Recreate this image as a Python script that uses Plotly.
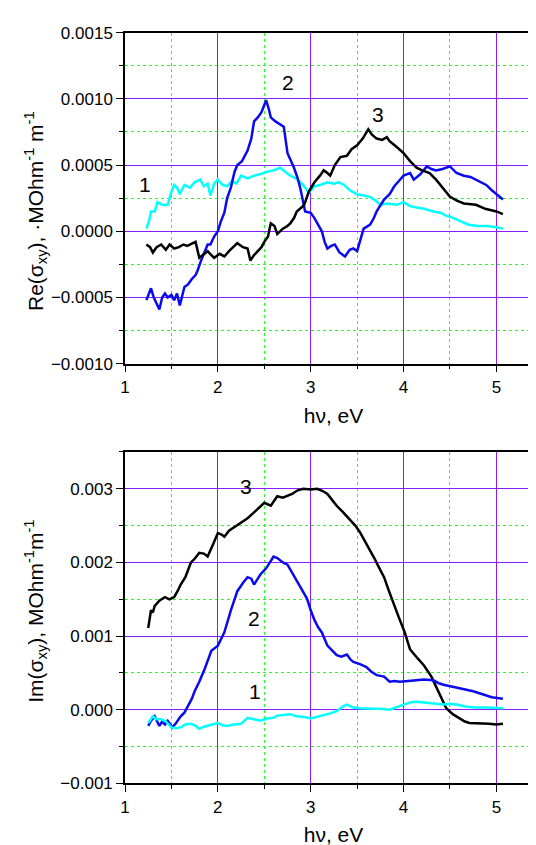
import plotly.graph_objects as go

# ---- data: upper panel Re(sigma_xy) ----
re1_x = [1.23,1.26,1.28,1.32,1.35,1.40,1.46,1.50,1.53,1.56,1.59,1.64,1.70,1.75,1.81,1.85,1.89,1.92,1.96,2.00,2.05,2.10,2.15,2.20,2.25,2.32,2.39,2.45,2.53,2.60,2.67,2.72,2.78,2.84,2.89,2.94,2.98,3.04,3.10,3.18,3.25,3.30,3.36,3.42,3.50,3.57,3.64,3.70,3.75,3.82,3.93,4.00,4.07,4.14,4.22,4.32,4.40,4.45,4.50,4.60,4.70,4.80,4.90,5.00,5.07]
re1_y = [0.00002,0.00008,0.00015,0.00015,0.00022,0.00020,0.00020,0.00030,0.00035,0.00033,0.00028,0.00035,0.00033,0.00037,0.00039,0.00034,0.00036,0.00027,0.00036,0.00039,0.00035,0.00034,0.00038,0.00036,0.00042,0.00040,0.00042,0.00043,0.00045,0.00046,0.00048,0.00045,0.00042,0.00040,0.00037,0.00033,0.00029,0.00034,0.00035,0.00037,0.00036,0.00037,0.00035,0.00031,0.00028,0.00027,0.00026,0.00023,0.00020,0.00021,0.00020,0.00022,0.00019,0.00018,0.00017,0.00015,0.00014,0.00012,0.00011,0.00008,0.00005,0.00004,0.00004,0.00003,0.00002]

re2_x = [1.23,1.26,1.28,1.31,1.34,1.37,1.40,1.43,1.46,1.50,1.53,1.56,1.59,1.62,1.64,1.68,1.72,1.76,1.78,1.82,1.86,1.89,1.92,1.96,2.00,2.03,2.07,2.10,2.14,2.18,2.21,2.26,2.32,2.36,2.39,2.43,2.47,2.50,2.52,2.55,2.57,2.62,2.66,2.71,2.75,2.79,2.82,2.86,2.89,2.94,3.00,3.04,3.08,3.12,3.15,3.18,3.22,3.26,3.31,3.37,3.42,3.46,3.50,3.54,3.57,3.64,3.68,3.71,3.75,3.79,3.85,3.90,3.95,4.00,4.07,4.11,4.18,4.25,4.30,4.35,4.42,4.50,4.57,4.65,4.72,4.78,4.84,4.89,4.95,5.00,5.07]
re2_y = [-0.00052,-0.00047,-0.00043,-0.00050,-0.00055,-0.00059,-0.00050,-0.00047,-0.00050,-0.00048,-0.00052,-0.00047,-0.00056,-0.00048,-0.00042,-0.00040,-0.00036,-0.00033,-0.00030,-0.00022,-0.00015,-0.00010,-0.00010,-0.00004,0.00000,0.00007,0.00014,0.00025,0.00033,0.00045,0.00050,0.00053,0.00061,0.00070,0.00083,0.00086,0.00090,0.00096,0.00099,0.00092,0.00086,0.00083,0.00081,0.00079,0.00059,0.00053,0.00048,0.00040,0.00032,0.00015,0.00014,0.00010,0.00005,0.00000,-0.00008,-0.00013,-0.00011,-0.00010,-0.00016,-0.00019,-0.00014,-0.00013,-0.00015,-0.00006,0.00002,0.00005,0.00010,0.00015,0.00020,0.00024,0.00028,0.00034,0.00038,0.00042,0.00044,0.00039,0.00043,0.00049,0.00047,0.00046,0.00047,0.00049,0.00044,0.00042,0.00041,0.00039,0.00037,0.00035,0.00031,0.00028,0.00024]

re3_x = [1.23,1.27,1.30,1.34,1.39,1.44,1.48,1.53,1.58,1.63,1.67,1.72,1.76,1.80,1.85,1.89,1.93,1.96,2.02,2.07,2.12,2.17,2.21,2.27,2.32,2.35,2.39,2.43,2.47,2.50,2.54,2.57,2.61,2.64,2.70,2.75,2.78,2.82,2.85,2.90,2.93,2.98,3.04,3.10,3.14,3.18,3.21,3.26,3.32,3.39,3.44,3.50,3.56,3.62,3.66,3.71,3.77,3.82,3.85,3.92,4.00,4.07,4.14,4.20,4.28,4.35,4.43,4.50,4.58,4.65,4.78,4.88,5.00,5.07]
re3_y = [-0.00010,-0.00012,-0.00016,-0.00012,-0.00010,-0.00014,-0.00010,-0.00013,-0.00012,-0.00010,-0.00011,-0.00009,-0.00008,-0.00020,-0.00017,-0.00015,-0.00018,-0.00020,-0.00017,-0.00019,-0.00015,-0.00012,-0.00009,-0.00012,-0.00013,-0.00022,-0.00018,-0.00015,-0.00012,-0.00008,-0.00004,0.00006,0.00004,-0.00002,0.00002,0.00004,0.00006,0.00010,0.00015,0.00018,0.00020,0.00030,0.00037,0.00042,0.00046,0.00044,0.00042,0.00050,0.00056,0.00057,0.00062,0.00065,0.00070,0.00077,0.00073,0.00070,0.00069,0.00071,0.00068,0.00064,0.00059,0.00053,0.00048,0.00046,0.00044,0.00039,0.00032,0.00026,0.00023,0.00021,0.00020,0.00017,0.00015,0.00013]

# ---- data: lower panel Im(sigma_xy) ----
im1_x = [1.25,1.28,1.30,1.34,1.39,1.44,1.50,1.55,1.60,1.65,1.71,1.76,1.80,1.85,1.89,1.94,2.00,2.05,2.10,2.17,2.25,2.32,2.39,2.46,2.53,2.60,2.64,2.71,2.78,2.85,2.93,3.00,3.07,3.14,3.21,3.28,3.34,3.39,3.46,3.53,3.62,3.71,3.78,3.85,3.93,4.00,4.07,4.14,4.22,4.32,4.43,4.50,4.57,4.68,4.78,4.90,5.07]
im1_y = [-0.00018,-0.00012,-0.00009,-0.00013,-0.00013,-0.00016,-0.00024,-0.00025,-0.00024,-0.00020,-0.00019,-0.00022,-0.00026,-0.00023,-0.00022,-0.00020,-0.00018,-0.00021,-0.00022,-0.00020,-0.00019,-0.00011,-0.00013,-0.00015,-0.00012,-0.00011,-0.00008,-0.00007,-0.00006,-0.00009,-0.00010,-0.00012,-0.00010,-0.00008,-0.00005,-0.00002,0.00004,0.00007,0.00003,0.00002,0.00002,0.00002,0.00001,0.00000,0.00004,0.00007,0.00010,0.00011,0.00010,0.00009,0.00007,0.00008,0.00007,0.00004,0.00003,0.00003,0.00002]

im2_x = [1.25,1.28,1.32,1.35,1.37,1.40,1.43,1.46,1.51,1.55,1.60,1.64,1.68,1.72,1.75,1.80,1.86,1.90,1.93,2.00,2.04,2.07,2.14,2.21,2.27,2.32,2.36,2.39,2.43,2.46,2.52,2.57,2.60,2.64,2.70,2.75,2.80,2.85,2.90,2.96,3.00,3.04,3.08,3.12,3.18,3.23,3.28,3.33,3.39,3.43,3.46,3.53,3.60,3.65,3.71,3.79,3.85,3.90,3.96,4.05,4.14,4.22,4.32,4.38,4.43,4.50,4.64,4.75,4.85,4.95,5.07]
im2_y = [-0.00022,-0.00015,-0.00009,-0.00018,-0.00022,-0.00016,-0.00020,-0.00015,-0.00024,-0.00018,-0.00009,-0.00004,0.00005,0.00015,0.00025,0.00038,0.00056,0.00070,0.00080,0.00087,0.00097,0.00105,0.00135,0.00161,0.00172,0.00180,0.00178,0.00170,0.00178,0.00184,0.00192,0.00201,0.00208,0.00206,0.00200,0.00197,0.00186,0.00175,0.00163,0.00151,0.00135,0.00122,0.00112,0.00105,0.00087,0.00080,0.00074,0.00072,0.00075,0.00068,0.00065,0.00062,0.00058,0.00052,0.00047,0.00045,0.00038,0.00039,0.00038,0.00039,0.00040,0.00041,0.00040,0.00036,0.00034,0.00032,0.00029,0.00025,0.00021,0.00017,0.00015]

im3_x = [1.25,1.28,1.30,1.32,1.37,1.43,1.48,1.53,1.57,1.60,1.65,1.71,1.75,1.80,1.85,1.89,1.95,2.00,2.04,2.07,2.12,2.18,2.25,2.32,2.39,2.45,2.50,2.57,2.64,2.70,2.75,2.80,2.86,2.92,3.00,3.07,3.13,3.18,3.23,3.28,3.35,3.42,3.48,3.53,3.60,3.68,3.74,3.79,3.84,3.89,3.95,4.01,4.07,4.15,4.22,4.30,4.36,4.41,4.46,4.53,4.60,4.66,4.71,4.80,4.92,5.00,5.07]
im3_y = [0.00111,0.00135,0.00132,0.00141,0.00148,0.00153,0.00150,0.00153,0.00162,0.00170,0.00180,0.00200,0.00205,0.00213,0.00212,0.00208,0.00225,0.00240,0.00238,0.00235,0.00243,0.00248,0.00253,0.00260,0.00268,0.00275,0.00281,0.00277,0.00290,0.00288,0.00290,0.00293,0.00298,0.00300,0.00299,0.00300,0.00297,0.00293,0.00285,0.00277,0.00268,0.00259,0.00250,0.00241,0.00226,0.00207,0.00192,0.00180,0.00162,0.00144,0.00125,0.00106,0.00082,0.00070,0.00060,0.00045,0.00029,0.00015,0.00002,-0.00006,-0.00012,-0.00016,-0.00018,-0.00018,-0.00019,-0.00020,-0.00019]

# curve labels
top_labels = ["1", "2", "3"]
top_label_x = [1.22, 2.76, 3.73]
top_label_y = [0.00035, 0.00112, 0.00088]
bot_labels = ["3", "2", "1"]
bot_label_x = [2.30, 2.39, 2.40]
bot_label_y = [0.00303, 0.00124, 0.00025]

x_title = "hν, eV"
y_title_top = "Re(σ<sub>xy</sub>), ·MOhm<sup>-1</sup> m<sup>-1</sup>"
y_title_bot = "Im(σ<sub>xy</sub>), MOhm<sup>-1</sup>m<sup>-1</sup>"

CYAN = "#00ffff"
BLUE = "#0a0aee"
BLACK = "#000000"
MAJ = "#8a1cff"
MIN = "#22ff22"
FONT = "Liberation Sans, Arial, sans-serif"

fig = go.Figure()
line_w = 2.5
for xs, ys, c in [(re1_x, re1_y, CYAN), (re2_x, re2_y, BLUE), (re3_x, re3_y, BLACK)]:
    fig.add_trace(go.Scatter(x=xs, y=ys, mode="lines", line=dict(color=c, width=line_w),
                             xaxis="x", yaxis="y", showlegend=False))
for xs, ys, c in [(im3_x, im3_y, BLACK), (im2_x, im2_y, BLUE), (im1_x, im1_y, CYAN)]:
    fig.add_trace(go.Scatter(x=xs, y=ys, mode="lines", line=dict(color=c, width=line_w),
                             xaxis="x2", yaxis="y2", showlegend=False))

def xax(anchor):
    return dict(
        anchor=anchor, range=[1, 5.491], dtick=1, tick0=1,
        showline=True, linecolor="#000000", linewidth=1.5, mirror=True,
        ticks="outside", ticklen=7, tickcolor="#000000", tickwidth=1.2,
        showgrid=True, gridcolor=MAJ, gridwidth=1, zeroline=False,
        tickfont=dict(family=FONT, size=17, color="#000000"),
        minor=dict(dtick=0.5, tick0=1, ticks="outside", ticklen=4, tickcolor="#000000",
                   showgrid=True, gridcolor=MIN, griddash="dot", gridwidth=1),
        title=dict(text=x_title, font=dict(family=FONT, size=21, color="#000000"), standoff=12),
    )

def yax(anchor, domain, rng, dtick, minor_dtick, fmt):
    return dict(
        anchor=anchor, domain=domain, range=rng, dtick=dtick, tick0=0,
        showline=True, linecolor="#000000", linewidth=1.5, mirror=True,
        ticks="outside", ticklen=7, tickcolor="#000000", tickwidth=1.2,
        showgrid=True, gridcolor=MAJ, gridwidth=1, zeroline=False,
        tickformat=fmt,
        tickfont=dict(family=FONT, size=17, color="#000000"),
        minor=dict(dtick=minor_dtick, tick0=0, ticks="outside", ticklen=4, tickcolor="#000000",
                   showgrid=True, gridcolor=MIN, griddash="dot", gridwidth=1),
    )

H = 845.0
W = 419.0
fig.update_layout(
    width=536, height=845,
    margin=dict(l=117, r=0, t=0, b=0),
    paper_bgcolor="white", plot_bgcolor="white",
    font=dict(family=FONT, color="#000000"),
    xaxis=xax("y"),
    yaxis=yax("x", [1 - 354.7 / H, 1 - 16 / H], [-0.001, 0.0015], 0.0005, 0.00025, ".4f"),
    xaxis2=xax("y2"),
    yaxis2=yax("x2", [1 - 784 / H, 1 - 445 / H], [-0.001, 0.0035], 0.001, 0.0005, ".3f"),
)

# y-axis titles as annotations for precise placement
fig.add_annotation(text=y_title_top, xref="paper", yref="paper", x=(27 - 117) / W,
                   y=1 - 198 / H, textangle=-90, showarrow=False, xanchor="center", yanchor="middle",
                   font=dict(family=FONT, size=21, color="#000000"))
fig.add_annotation(text=y_title_bot, xref="paper", yref="paper", x=(27 - 117) / W,
                   y=1 - 608 / H, textangle=-90, showarrow=False, xanchor="center", yanchor="middle",
                   font=dict(family=FONT, size=21, color="#000000"))

for t, x, y in zip(top_labels, top_label_x, top_label_y):
    fig.add_annotation(text=t, x=x, y=y, xref="x", yref="y", showarrow=False,
                       font=dict(family=FONT, size=21, color="#000000"))
for t, x, y in zip(bot_labels, bot_label_x, bot_label_y):
    fig.add_annotation(text=t, x=x, y=y, xref="x2", yref="y2", showarrow=False,
                       font=dict(family=FONT, size=21, color="#000000"))

fig.write_html("out.html")
